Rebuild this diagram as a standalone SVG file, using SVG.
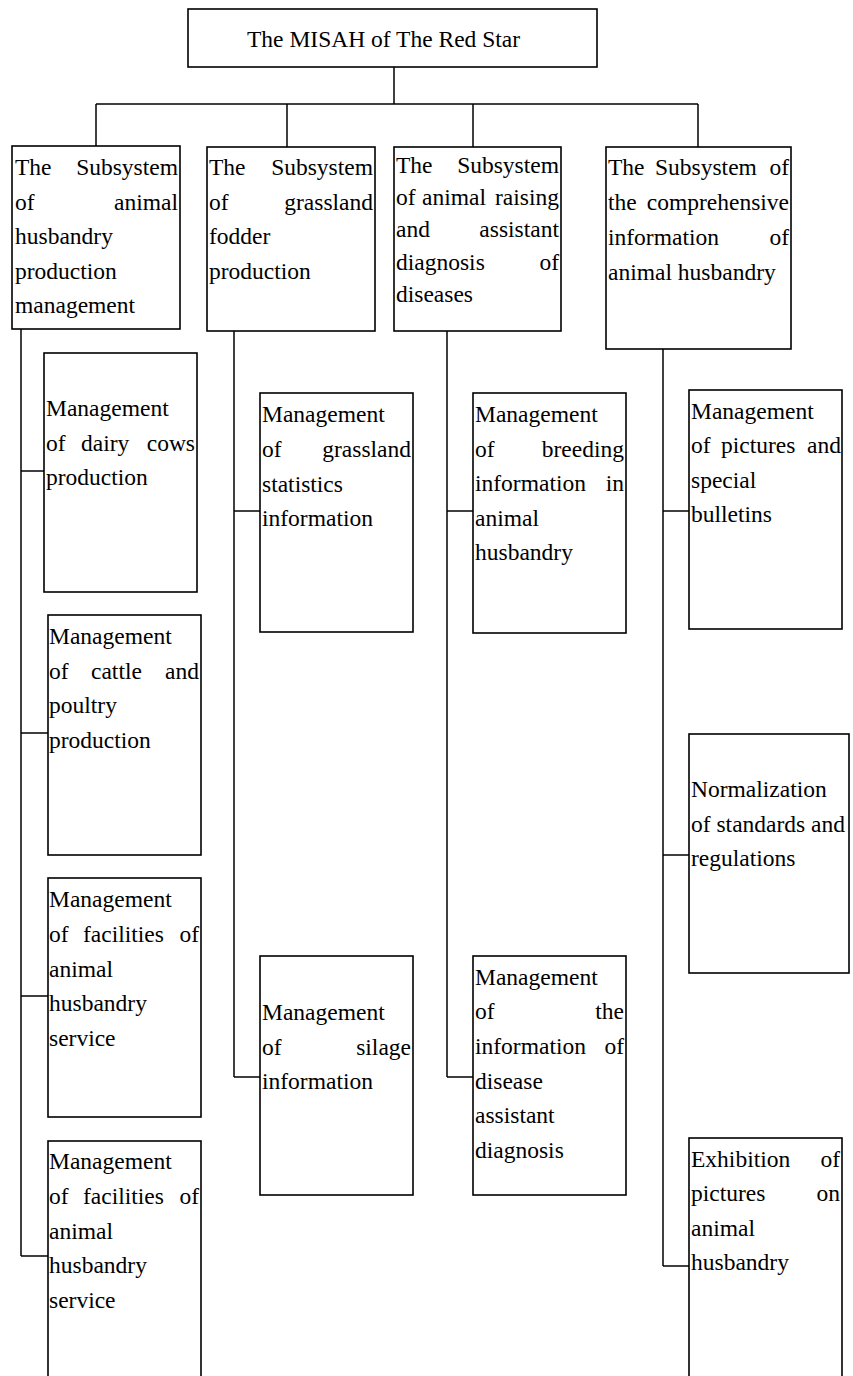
<svg xmlns="http://www.w3.org/2000/svg" width="853" height="1376" viewBox="0 0 853 1376">
<style>
rect{fill:#fff;stroke:#000;stroke-width:1.6}
.c line{stroke:#000;stroke-width:1.5}
text{font-family:"Liberation Serif","Times New Roman",serif;font-size:23.5px;fill:#000}
.e{text-anchor:end}
</style>
<rect x="0" y="0" width="853" height="1376" style="stroke:none"/>
<g class="c" id="connectors">
<line x1="394" y1="67" x2="394" y2="104"/>
<line x1="96" y1="104" x2="698" y2="104"/>
<line x1="96" y1="104" x2="96" y2="146"/>
<line x1="287" y1="104" x2="287" y2="147"/>
<line x1="473" y1="104" x2="473" y2="147"/>
<line x1="698" y1="104" x2="698" y2="147"/>
<line x1="21" y1="329" x2="21" y2="1256"/>
<line x1="21" y1="471" x2="44" y2="471"/>
<line x1="21" y1="733" x2="48" y2="733"/>
<line x1="21" y1="996" x2="48" y2="996"/>
<line x1="21" y1="1256" x2="48" y2="1256"/>
<line x1="234" y1="331" x2="234" y2="1077"/>
<line x1="234" y1="511" x2="260" y2="511"/>
<line x1="234" y1="1077" x2="260" y2="1077"/>
<line x1="447" y1="331" x2="447" y2="1077"/>
<line x1="447" y1="511" x2="473" y2="511"/>
<line x1="447" y1="1077" x2="473" y2="1077"/>
<line x1="663" y1="349" x2="663" y2="1266"/>
<line x1="663" y1="511" x2="689" y2="511"/>
<line x1="663" y1="855" x2="689" y2="855"/>
<line x1="663" y1="1266" x2="689" y2="1266"/>
</g>
<g id="root">
<rect x="188" y="9" width="409" height="58"/>
<text x="247" y="47">The MISAH of The Red Star</text>
</g>
<g id="sub1">
<rect x="12" y="146" width="168" height="183"/>
<text x="15" y="175">The</text><text class="e" x="178" y="175">Subsystem</text>
<text x="15" y="210">of</text><text class="e" x="178" y="210">animal</text>
<text x="15" y="244">husbandry</text>
<text x="15" y="279">production</text>
<text x="15" y="313">management</text>
</g>
<g id="sub2">
<rect x="207" y="147" width="168" height="184"/>
<text x="209" y="175">The</text><text class="e" x="373" y="175">Subsystem</text>
<text x="209" y="210">of</text><text class="e" x="373" y="210">grassland</text>
<text x="209" y="244">fodder</text>
<text x="209" y="279">production</text>
</g>
<g id="sub3">
<rect x="394" y="147" width="167" height="184"/>
<text x="396" y="173">The</text><text class="e" x="559" y="173">Subsystem</text>
<text x="396" y="205">of</text><text x="422" y="205">animal</text><text class="e" x="559" y="205">raising</text>
<text x="396" y="237">and</text><text class="e" x="559" y="237">assistant</text>
<text x="396" y="270">diagnosis</text><text class="e" x="559" y="270">of</text>
<text x="396" y="302">diseases</text>
</g>
<g id="sub4">
<rect x="606" y="147" width="185" height="202"/>
<text x="608" y="175">The</text><text x="655" y="175">Subsystem</text><text class="e" x="789" y="175">of</text>
<text x="608" y="210">the</text><text class="e" x="789" y="210">comprehensive</text>
<text x="608" y="245">information</text><text class="e" x="789" y="245">of</text>
<text x="608" y="280">animal husbandry</text>
</g>
<g id="dairy">
<rect x="44" y="353" width="153" height="239"/>
<text x="46" y="416">Management</text>
<text x="46" y="451">of</text><text x="81" y="451">dairy</text><text class="e" x="195" y="451">cows</text>
<text x="46" y="485">production</text>
</g>
<g id="cattle">
<rect x="48" y="615" width="153" height="240"/>
<text x="49" y="644">Management</text>
<text x="49" y="679">of</text><text x="91" y="679">cattle</text><text class="e" x="199" y="679">and</text>
<text x="49" y="713">poultry</text>
<text x="49" y="748">production</text>
</g>
<g id="facilities1">
<rect x="48" y="878" width="153" height="239"/>
<text x="49" y="907">Management</text>
<text x="49" y="942">of</text><text x="83" y="942">facilities</text><text class="e" x="199" y="942">of</text>
<text x="49" y="977">animal</text>
<text x="49" y="1011">husbandry</text>
<text x="49" y="1046">service</text>
</g>
<g id="facilities2">
<rect x="48" y="1141" width="153" height="260"/>
<text x="49" y="1169">Management</text>
<text x="49" y="1204">of</text><text x="83" y="1204">facilities</text><text class="e" x="199" y="1204">of</text>
<text x="49" y="1239">animal</text>
<text x="49" y="1273">husbandry</text>
<text x="49" y="1308">service</text>
</g>
<g id="grassland">
<rect x="260" y="393" width="153" height="239"/>
<text x="262" y="422">Management</text>
<text x="262" y="457">of</text><text class="e" x="411" y="457">grassland</text>
<text x="262" y="492">statistics</text>
<text x="262" y="526">information</text>
</g>
<g id="silage">
<rect x="260" y="956" width="153" height="239"/>
<text x="262" y="1020">Management</text>
<text x="262" y="1055">of</text><text class="e" x="411" y="1055">silage</text>
<text x="262" y="1089">information</text>
</g>
<g id="breeding">
<rect x="473" y="393" width="153" height="240"/>
<text x="475" y="422">Management</text>
<text x="475" y="457">of</text><text class="e" x="624" y="457">breeding</text>
<text x="475" y="491">information</text><text class="e" x="624" y="491">in</text>
<text x="475" y="526">animal</text>
<text x="475" y="560">husbandry</text>
</g>
<g id="disease">
<rect x="473" y="956" width="153" height="239"/>
<text x="475" y="985">Management</text>
<text x="475" y="1019">of</text><text class="e" x="624" y="1019">the</text>
<text x="475" y="1054">information</text><text class="e" x="624" y="1054">of</text>
<text x="475" y="1089">disease</text>
<text x="475" y="1123">assistant</text>
<text x="475" y="1158">diagnosis</text>
</g>
<g id="pictures">
<rect x="689" y="390" width="153" height="239"/>
<text x="691" y="419">Management</text>
<text x="691" y="453">of</text><text x="721" y="453">pictures</text><text class="e" x="841" y="453">and</text>
<text x="691" y="488">special</text>
<text x="691" y="522">bulletins</text>
</g>
<g id="normalization">
<rect x="689" y="734" width="160" height="239"/>
<text x="691" y="797">Normalization</text>
<text x="691" y="832">of standards and</text>
<text x="691" y="866">regulations</text>
</g>
<g id="exhibition">
<rect x="689" y="1138" width="153" height="260"/>
<text x="691" y="1167">Exhibition</text><text class="e" x="840" y="1167">of</text>
<text x="691" y="1201">pictures</text><text class="e" x="840" y="1201">on</text>
<text x="691" y="1236">animal</text>
<text x="691" y="1270">husbandry</text>
</g>
</svg>
